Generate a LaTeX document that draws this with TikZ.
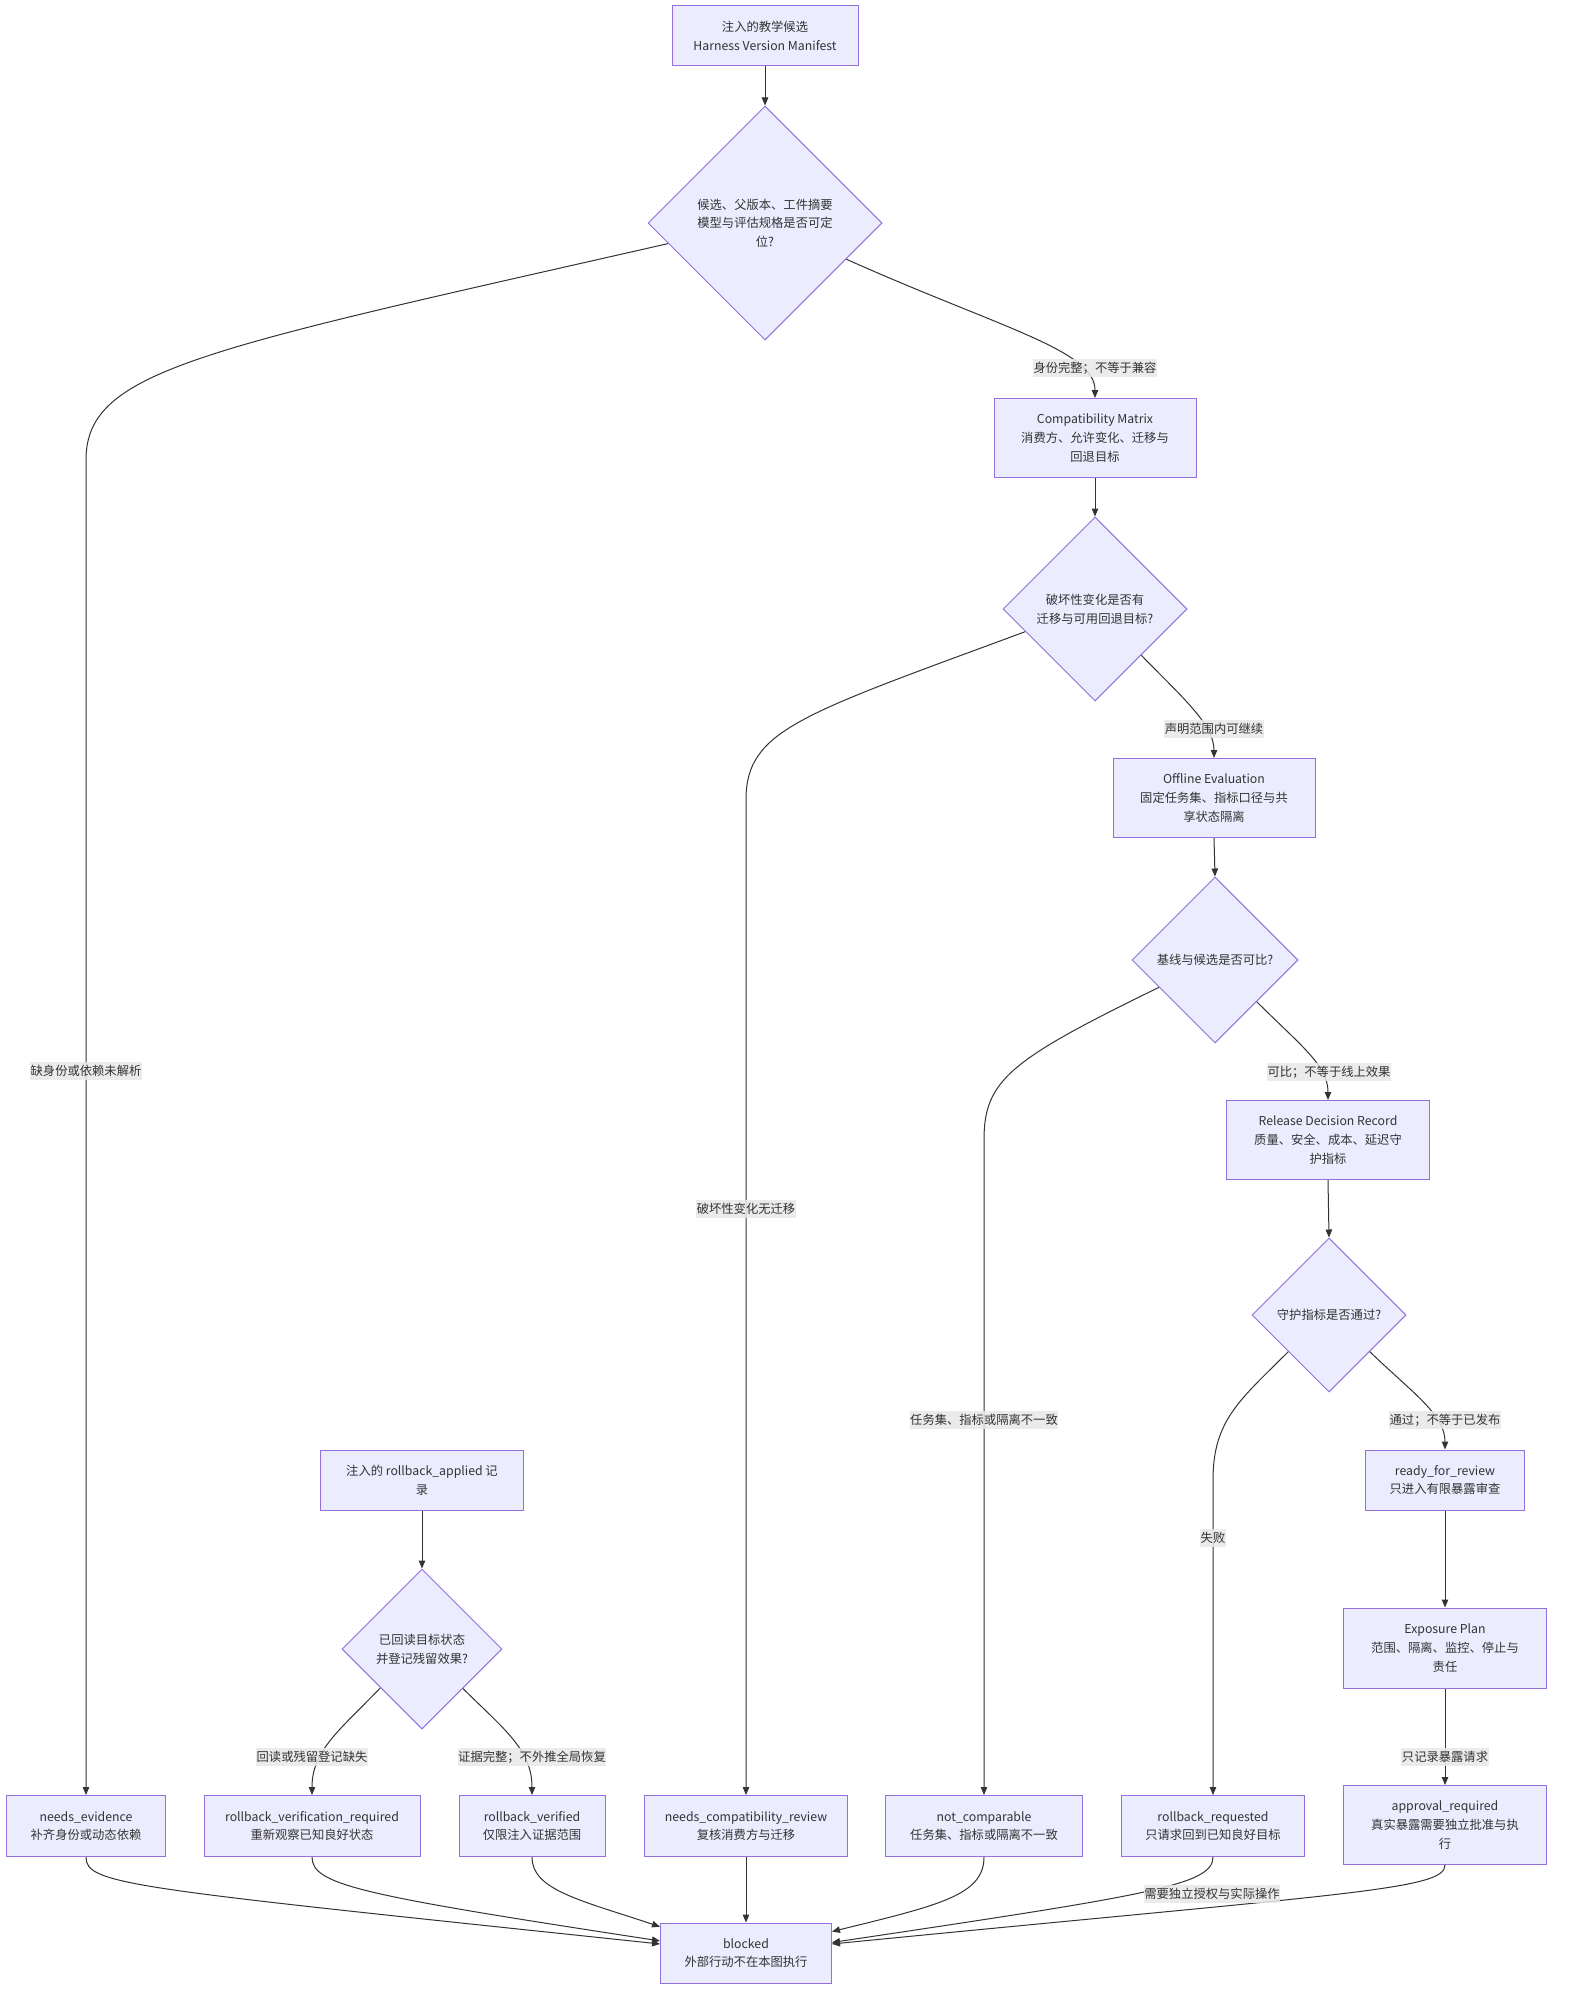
\documentclass[tikz,border=0pt]{standalone}
\usepackage{fontspec}
\setmainfont{Noto Sans CJK SC}
\usetikzlibrary{shapes.geometric,arrows.meta}
\definecolor{nodefill}{HTML}{ECECFF}
\definecolor{nodeline}{HTML}{9370DB}
\definecolor{edgecol}{HTML}{333333}
\definecolor{lblfill}{HTML}{E8E8E8}
\definecolor{txt}{HTML}{333333}
\begin{document}
\begin{tikzpicture}[x=1pt,y=-1pt,
  txtfont/.style={font=\fontsize{12.3}{18.7}\selectfont, text=txt},
  box/.style={draw=nodeline, fill=nodefill, line width=1pt, align=center, inner sep=0pt, txtfont},
  dia/.style={diamond, aspect=1, draw=nodeline, fill=nodefill, line width=1pt, align=center, inner sep=0pt, txtfont},
  lbl/.style={fill=lblfill, fill opacity=0.85, text opacity=1, inner xsep=0.5pt, inner ysep=0pt, minimum height=18pt, txtfont},
  arr/.style={draw=edgecol, line width=1pt, -{Triangle[length=8pt,width=6.5pt]}}
]
\useasboundingbox (0,0) rectangle (1568,2012);
\fill[white] (0,0) rectangle (1568,2012);

% nodes
\node[box, minimum width=186pt, minimum height=60pt] (top) at (765,36) {注入的教学候选\\Harness Version Manifest};
\node[dia, minimum width=234pt, minimum height=234pt] (d1) at (765,223) {候选、父版本、工件摘要\\模型与评估规格是否可定\\位?};
\node[box, minimum width=202pt, minimum height=79pt] (compat) at (1095,438) {Compatibility Matrix\\消费方、允许变化、迁移与\\回退目标};
\node[dia, minimum width=184pt, minimum height=184pt] (d2) at (1095,609) {破坏性变化是否有\\迁移与可用回退目标?};
\node[box, minimum width=202pt, minimum height=79pt] (offline) at (1214,798) {Offline Evaluation\\固定任务集、指标口径与共\\享状态隔离};
\node[dia, minimum width=166pt, minimum height=166pt] (d3) at (1215,960) {基线与候选是否可比?};
\node[box, minimum width=203pt, minimum height=79pt] (release) at (1328,1140) {Release Decision Record\\质量、安全、成本、延迟守\\护指标};
\node[dia, minimum width=154pt, minimum height=154pt] (d4) at (1329,1315) {守护指标是否通过?};
\node[box, minimum width=159pt, minimum height=60pt] (ready) at (1445,1480) {ready\_for\_review\\只进入有限暴露审查};
\node[box, minimum width=203pt, minimum height=80pt] (exposure) at (1445,1648) {Exposure Plan\\范围、隔离、监控、停止与\\责任};
\node[box, minimum width=203pt, minimum height=79pt] (approval) at (1445,1825) {approval\_required\\真实暴露需要独立批准与执\\行};
\node[box, minimum width=203pt, minimum height=60pt] (rba) at (422,1480) {注入的 rollback\_applied 记\\录};
\node[dia, minimum width=160pt, minimum height=160pt] (d5) at (422,1649) {已回读目标状态\\并登记残留效果?};
\node[box, minimum width=159pt, minimum height=61pt] (ne) at (86,1826) {needs\_evidence\\补齐身份或动态依赖};
\node[box, minimum width=216pt, minimum height=61pt] (rvr) at (312,1826) {rollback\_verification\_required\\重新观察已知良好状态};
\node[box, minimum width=146pt, minimum height=61pt] (rv) at (532,1826) {rollback\_verified\\仅限注入证据范围};
\node[box, minimum width=203pt, minimum height=61pt] (ncr) at (746,1826) {needs\_compatibility\_review\\复核消费方与迁移};
\node[box, minimum width=197pt, minimum height=61pt] (nc) at (984,1826) {not\_comparable\\任务集、指标或隔离不一致};
\node[box, minimum width=183pt, minimum height=61pt] (rr) at (1213,1826) {rollback\_requested\\只请求回到已知良好目标};
\node[box, minimum width=171pt, minimum height=60pt] (blocked) at (746,1953) {blocked\\外部行动不在本图执行};

% edges
\draw[arr] (top.south) -- (d1.north);
\draw[arr] (d1.192) .. controls (200,350) and (86,370) .. (86,460) -- (ne.north);
\draw[arr] (d1.-24.5) .. controls (1000,328) and (1095,350) .. (compat.north);
\draw[arr] (compat.south) -- (d2.north);
\draw[arr] (d2.198.4) .. controls (800,715) and (746,730) .. (746,800) -- (ncr.north);
\draw[arr] (d2.-45) .. controls (1185,700) and (1214,725) .. (offline.north);
\draw[arr] (offline.south) -- (d3.north);
\draw[arr] (d3.206.2) .. controls (1010,1060) and (984,1080) .. (984,1140) -- (nc.north);
\draw[arr] (d3.-45) .. controls (1300,1045) and (1328,1065) .. (release.north);
\draw[arr] (release.south) -- (d4.north);
\draw[arr] (d4.222) .. controls (1240,1400) and (1213,1420) .. (1213,1480) -- (rr.north);
\draw[arr] (d4.-42) .. controls (1415,1395) and (1445,1415) .. (ready.north);
\draw[arr] (ready.south) -- (exposure.north);
\draw[arr] (exposure.south) -- (approval.north);
\draw[arr] (rba.south) -- (d5.north);
\draw[arr] (d5.223.6) .. controls (340,1730) and (312,1750) .. (rvr.north);
\draw[arr] (d5.-44) .. controls (505,1730) and (532,1750) .. (rv.north);

\draw[arr] (ne.south) .. controls (86,1885) and (130,1888) .. (blocked.174.7);
\draw[arr] (rvr.south) .. controls (312,1885) and (360,1895) .. (blocked.172);
\draw[arr] (rv.south) .. controls (532,1890) and (580,1900) .. (blocked.163.8);
\draw[arr] (ncr.south) -- (blocked.north);
\draw[arr] (nc.south) .. controls (984,1895) and (940,1905) .. (blocked.14.5);
\draw[arr] (rr.south) .. controls (1213,1885) and (1150,1895) .. (blocked.7.4);
\draw[arr] (approval.south) .. controls (1445,1890) and (1350,1893) .. (blocked.6);

% edge labels
\node[lbl] (l1) at (1095,368) {身份完整；不等于兼容};
\node[lbl] (l2) at (86,1071) {缺身份或依赖未解析};
\node[lbl] (l3) at (746,1209) {破坏性变化无迁移};
\node[lbl] (l4) at (1214,729) {声明范围内可继续};
\node[lbl] (l5) at (984,1420) {任务集、指标或隔离不一致};
\node[lbl] (l6) at (1329,1072) {可比；不等于线上效果};
\node[lbl] (l7) at (1213,1538) {失败};
\node[lbl] (l8) at (1445,1420) {通过；不等于已发布};
\node[lbl] (l9) at (1445,1757) {只记录暴露请求};
\node[lbl] (l10) at (312,1757) {回读或残留登记缺失};
\node[lbl] (l11) at (532,1757) {证据完整；不外推全局恢复};
\node[lbl] (l12) at (1212,1894) {需要独立授权与实际操作};
\end{tikzpicture}
\end{document}
